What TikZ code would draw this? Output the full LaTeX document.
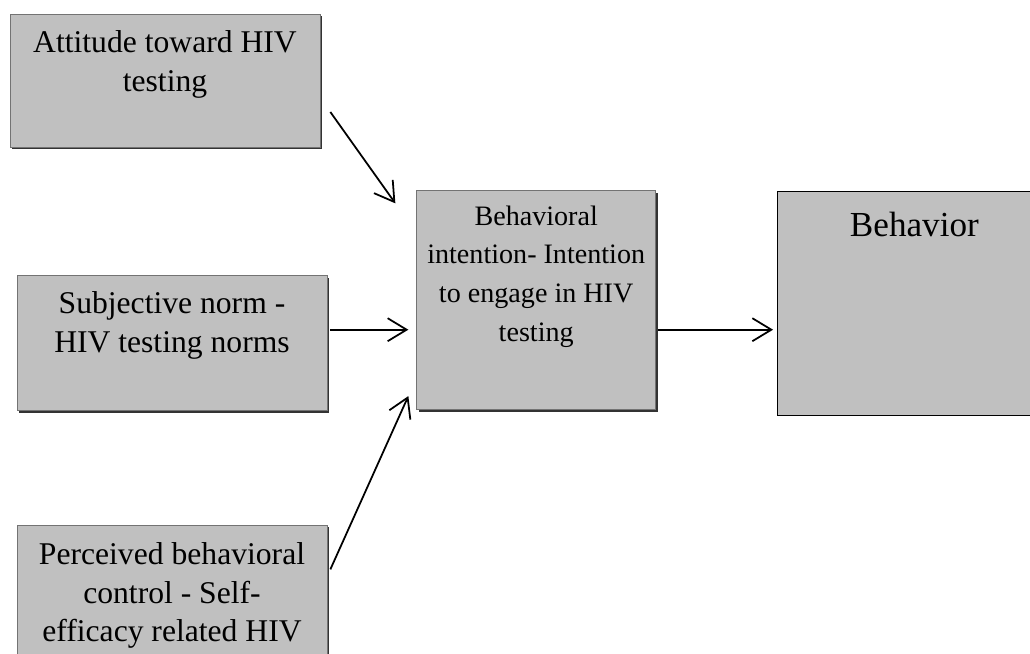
\documentclass[tikz,border=0pt]{standalone}
\usepackage{fontspec}
\setmainfont{Liberation Serif}
\usetikzlibrary{arrows.meta, positioning, shadows}
\definecolor{boxgray}{HTML}{C0C0C0}

\begin{document}
\begin{tikzpicture}[
    box/.style={draw=black!55, fill=boxgray, minimum width=6.2cm, minimum height=2.7cm,
      drop shadow={shadow xshift=0.04cm, shadow yshift=-0.04cm, fill=black!80, opacity=1}},
    txt/.style={align=center, inner sep=0pt, font=\fontsize{18}{22}\selectfont},
    arr/.style={-{Straight Barb[length=0.38cm, width=0.46cm]}, line width=1pt}
]
\clip (0,0) rectangle (20.6,-13.08);

\node[box, minimum height=2.66cm] (att) at (3.30,-1.61) {};
\node[box, below=2.56cm of att, xshift=0.14cm] (subj) {};
\node[box, below=2.28cm of subj] (perc) {};
\node[box, minimum width=4.78cm, minimum height=4.38cm, right=1.78cm of subj, yshift=0.86cm] (intent) {};
\node[draw=black, fill=boxgray, minimum width=5.48cm, minimum height=4.48cm, right=2.42cm of intent, yshift=-0.07cm] (beh) {};

\node[txt, below=0.34cm of att.north] (att-t) {Attitude toward HIV\\testing};
\node[txt, below=0.32cm of subj.north] (subj-t) {Subjective norm -\\HIV testing norms};
\node[txt, below=0.34cm of perc.north] (perc-t) {Perceived behavioral\\control - Self-\\efficacy related HIV};
\node[txt, font=\fontsize{16}{22}\selectfont, below=0.3cm of intent.north] (intent-t) {Behavioral\\intention- Intention\\to engage in HIV\\testing};
\node[txt, font=\fontsize{20}{24}\selectfont, below=0.4cm of beh.north] (beh-t) {Behavior};

\draw[arr] ([shift={(0.2,-0.63)}]att.east) -- ([shift={(-0.42,-0.26)}]intent.north west);
\draw[arr, shorten >=0.22cm] ([shift={(0.06,0.27)}]subj.east) -- ([shift={(0.06,0.27)}]subj.east -| intent.west);
\draw[arr] ([shift={(0.06,0.47)}]perc.east) -- ([shift={(-0.16,0.28)}]intent.south west);
\draw[arr, shorten >=0.12cm] ([shift={(0.04,-0.59)}]intent.east) -- ([shift={(0.04,-0.59)}]intent.east -| beh.west);
\end{tikzpicture}
\end{document}
